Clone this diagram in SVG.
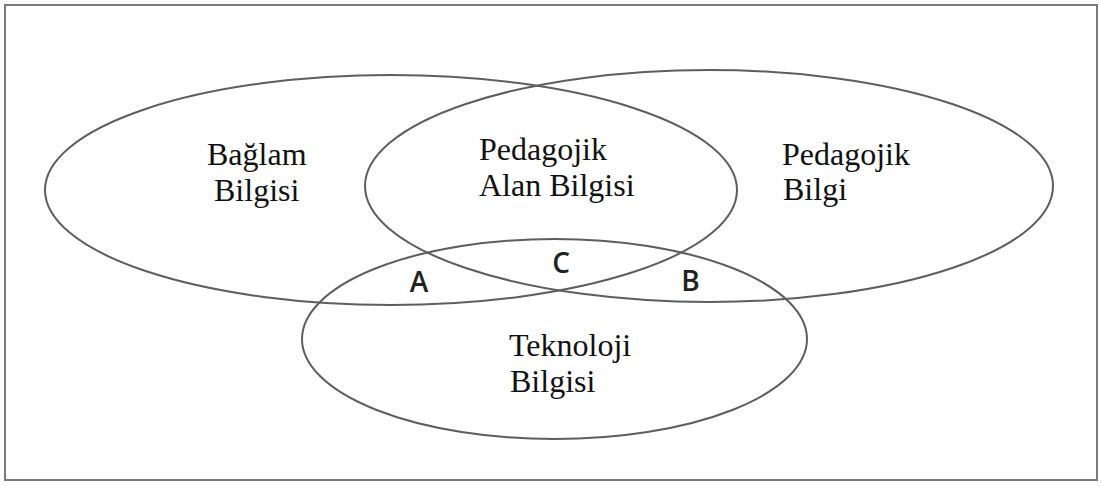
<svg xmlns="http://www.w3.org/2000/svg" width="1101" height="487" viewBox="0 0 1101 487">
  <style>
    .frame { fill: #ffffff; stroke: #7a7a7a; stroke-width: 2; }
    .set { fill: none; stroke: #5e5e5e; stroke-width: 2; }
    .name { font-family: "Liberation Serif", "Times New Roman", serif; font-size: 32px; fill: #111111; }
    .zone { font-family: "Open Sans", "DejaVu Sans", sans-serif; font-weight: 600; font-size: 28px; fill: #222222; text-anchor: middle; }
  </style>

  <!-- outer frame -->
  <rect class="frame" x="5" y="5" width="1092" height="475"/>

  <!-- context knowledge -->
  <g id="baglam-bilgisi">
    <ellipse class="set" cx="391" cy="190" rx="346" ry="115"/>
    <text class="name" x="207" y="165">Bağlam</text>
    <text class="name" x="214" y="201">Bilgisi</text>
  </g>

  <!-- pedagogical knowledge -->
  <g id="pedagojik-bilgi">
    <ellipse class="set" cx="709" cy="186" rx="344" ry="116"/>
    <text class="name" x="782" y="165">Pedagojik</text>
    <text class="name" x="783" y="200">Bilgi</text>
  </g>

  <!-- technology knowledge -->
  <g id="teknoloji-bilgisi">
    <ellipse class="set" cx="554.5" cy="339" rx="252.5" ry="100"/>
    <text class="name" x="509" y="356">Teknoloji</text>
    <text class="name" x="510" y="392">Bilgisi</text>
  </g>

  <!-- overlap of context and pedagogy -->
  <g id="pedagojik-alan-bilgisi">
    <text class="name" x="479" y="160">Pedagojik</text>
    <text class="name" x="479" y="196">Alan Bilgisi</text>
  </g>

  <!-- intersection zones -->
  <g id="zone-a"><text class="zone" x="419" y="292">A</text></g>
  <g id="zone-c"><text class="zone" x="561" y="273">C</text></g>
  <g id="zone-b"><text class="zone" x="690.5" y="291">B</text></g>

  <g id="connectors"/>
</svg>
